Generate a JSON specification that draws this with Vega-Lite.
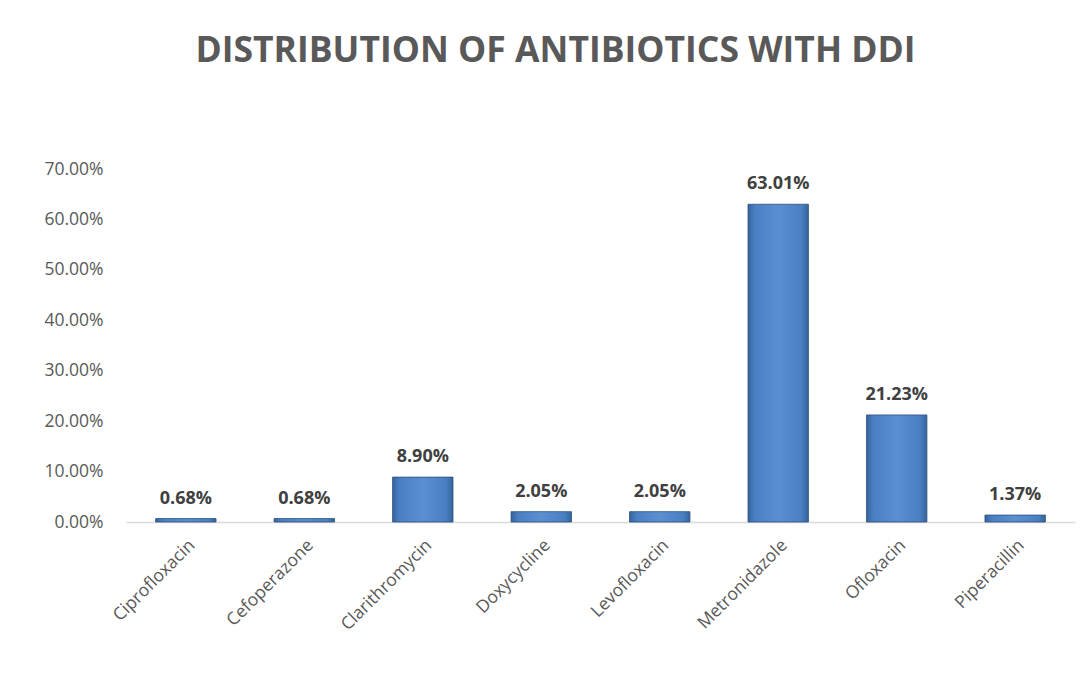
{
  "$schema": "https://vega.github.io/schema/vega-lite/v6.json",
  "autosize": {"type": "none"},
  "width": 949,
  "height": 353,
  "padding": {"left": 126, "top": 169, "right": 15, "bottom": 151},
  "background": "white",
  "title": {
    "text": "DISTRIBUTION OF ANTIBIOTICS WITH DDI",
    "font": "Open Sans",
    "fontSize": 35.5,
    "fontWeight": "bold",
    "color": "#595959",
    "anchor": "middle",
    "dx": -45,
    "offset": 91
  },
  "config": {
    "view": {"stroke": null},
    "font": "Open Sans"
  },
  "data": {
    "values": [
      {"drug": "Ciprofloxacin", "pct": 0.0068},
      {"drug": "Cefoperazone", "pct": 0.0068},
      {"drug": "Clarithromycin", "pct": 0.089},
      {"drug": "Doxycycline", "pct": 0.0205},
      {"drug": "Levofloxacin", "pct": 0.0205},
      {"drug": "Metronidazole", "pct": 0.6301},
      {"drug": "Ofloxacin", "pct": 0.2123},
      {"drug": "Piperacillin", "pct": 0.0137}
    ]
  },
  "encoding": {
    "x": {
      "field": "drug",
      "type": "nominal",
      "sort": null,
      "scale": {"paddingInner": 0.49, "paddingOuter": 0.25},
      "axis": {
        "title": null,
        "labelAngle": -45,
        "labelFontSize": 17.5,
        "labelColor": "#595959",
        "labelPadding": 14,
        "ticks": false,
        "domainColor": "#d9d9d9",
        "domainWidth": 1.5
      }
    },
    "y": {
      "field": "pct",
      "type": "quantitative",
      "scale": {"domain": [0, 0.7], "nice": false},
      "axis": {
        "title": null,
        "format": ".2%",
        "values": [0, 0.1, 0.2, 0.3, 0.4, 0.5, 0.6, 0.7],
        "labelFontSize": 17.5,
        "labelColor": "#595959",
        "labelPadding": 23,
        "domain": false,
        "ticks": false,
        "grid": false
      }
    }
  },
  "layer": [
    {
      "mark": {
        "type": "bar",
        "stroke": "#2c4f7c",
        "strokeWidth": 0.8,
        "color": {
          "gradient": "linear",
          "x1": 0, "y1": 0, "x2": 1, "y2": 0,
          "stops": [
            {"offset": 0, "color": "#36649e"},
            {"offset": 0.12, "color": "#4a80c3"},
            {"offset": 0.5, "color": "#5a8fd2"},
            {"offset": 0.88, "color": "#4a80c3"},
            {"offset": 1, "color": "#36649e"}
          ]
        }
      }
    },
    {
      "mark": {
        "type": "text",
        "baseline": "bottom",
        "dy": -11,
        "fontSize": 18,
        "fontWeight": "bold",
        "color": "#404040"
      },
      "encoding": {
        "text": {"field": "pct", "type": "quantitative", "format": ".2%"}
      }
    }
  ]
}
